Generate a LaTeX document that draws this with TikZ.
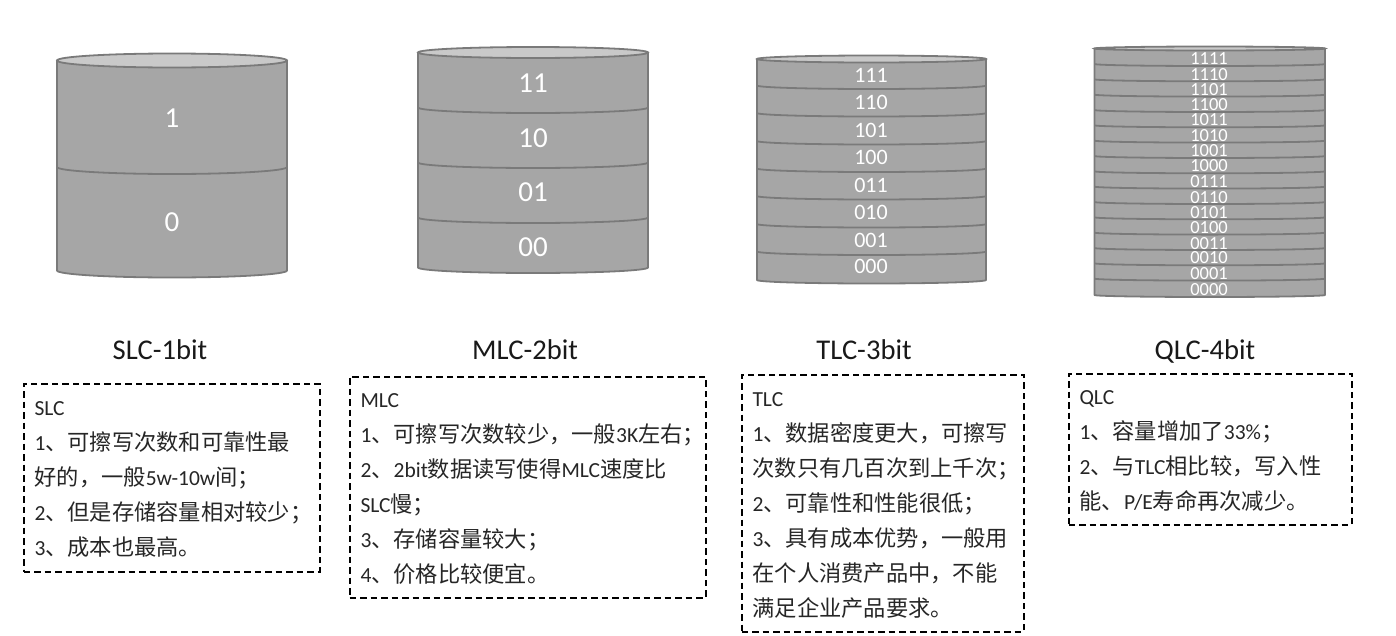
\documentclass[tikz,border=0pt]{standalone}
\usepackage{fontspec}
\setmainfont{Carlito}
\newfontfamily\cjk[Scale=1.035]{Noto Sans CJK SC}
\newcommand{\C}[1]{{\cjk #1}}
\newcommand{\toppad}{\rule{0pt}{18.5pt}}
\tikzset{
  cylbody/.style={fill=cylfill,draw=cylline,line width=1.8pt,line join=round},
  cyltop/.style={fill=cyltopfill,draw=cylline,line width=1.8pt},
  cylrule/.style={draw=cylline,line width=1.8pt},
  bitlabel/.style={text=white,inner sep=0pt,anchor=center},
  title/.style={font=\fontsize{28.6}{32}\selectfont,inner sep=0pt,anchor=base,text=black!90},
  notebox/.style={draw=black,line width=2pt,dash pattern=on 6.5pt off 4pt,anchor=north west,align=left,
    inner xsep=11pt,inner ysep=0pt,font=\fontsize{21.5}{35}\selectfont,text=black!85}
}
\definecolor{cylfill}{HTML}{A6A6A6}
\definecolor{cylline}{HTML}{7A7A7A}
\definecolor{cyltopfill}{HTML}{C9C9C9}
% #1 left, #2 right, #3 top y, #4 bottom y, #5 ry, #6 list of divider y
\newcommand{\cylshape}[6]{%
  \pgfmathsetmacro{\rx}{(#2-#1)/2}
  \draw[cylbody] (#1,#3) -- (#1,#4) arc[start angle=180,end angle=360,x radius=\rx pt,y radius=#5pt] -- (#2,#3) -- cycle;
  \draw[cyltop] ({(#1+#2)/2},#3) ellipse[x radius=\rx pt,y radius=#5pt];
  \foreach \yy in {#6} {\draw[cylrule] (#1,\yy) arc[start angle=180,end angle=360,x radius=\rx pt,y radius=#5pt];}
}
\begin{document}
\begin{tikzpicture}[x=1pt,y=-1pt]
\useasboundingbox (0,0) rectangle (1396,635);
% SLC
\cylshape{57}{287}{60.5}{270.5}{7}{167}
\node[bitlabel,font=\fontsize{29}{30}\selectfont] (s1) at (172,118.5) {1};
\node[bitlabel,font=\fontsize{29}{30}\selectfont] (s0) at (172,222.5) {0};
% MLC
\cylshape{418}{648}{52.5}{267.5}{5.5}{107.5,162.5,217.5}
\foreach \yy/\t in {83.5/11,138.5/10,192.5/01,247.5/00}
  \node[bitlabel,font=\fontsize{29}{30}\selectfont] (m\t) at (533,\yy) {\t};
% TLC
\cylshape{757}{986}{59}{280}{3.5}{85.5,113,141,168.5,196,224,251.5}
\foreach \yy/\t in {75.5/111,102.5/110,130.5/101,157.5/100,185.5/011,212.5/010,240.5/001,266.5/000}
  \node[bitlabel,font=\fontsize{22}{24}\selectfont] (t\t) at (871,\yy) {\t};
% QLC
\cylshape{1094.5}{1325}{48.5}{295}{2}{64,79.3,94.6,110,125.3,140.6,156,171.3,186.6,202,217.3,232.6,248,263.3,278.6}
\foreach \yy/\t in {58.5/1111,74.5/1110,89.5/1101,104.5/1100,119.5/1011,135.5/1010,150.5/1001,165.5/1000,181.5/0111,197.5/0110,212.5/0101,227.5/0100,243.5/0011,257.5/0010,273.5/0001,289.5/0000}
  \node[bitlabel,font=\fontsize{18.5}{20}\selectfont] (q\t) at (1209,\yy) {\t};
% titles
\node[title] (ts) at (160,359) {SLC-1bit};
\node[title] (tm) at (525,359) {MLC-2bit};
\node[title] (tt) at (864,359) {TLC-3bit};
\node[title] (tq) at (1205,359) {QLC-4bit};
% boxes
\node[notebox,text width=274pt,minimum width=296pt,minimum height=188pt] (bs) at (22.5,382.5) {%
\toppad SLC\\
1\C{、可擦写次数和可靠性最}\\
\C{好的，一般}5w-10w\C{间；}\\
2\C{、但是存储容量相对较少；}\\
3\C{、成本也最高。}};
\node[notebox,text width=334pt,minimum width=356pt,minimum height=221pt] (bm) at (348.5,375.5) {%
\toppad MLC\\
1\C{、可擦写次数较少，一般}3K\C{左右；}\\
2\C{、}2bit\C{数据读写使得}MLC\C{速度比}\\
SLC\C{慢；}\\
3\C{、存储容量较大；}\\
4\C{、价格比较便宜。}};
\node[notebox,text width=260pt,minimum width=282pt,minimum height=257pt] (bt) at (740.5,373.5) {%
\toppad TLC\\
1\C{、数据密度更大，可擦写}\\
\C{次数只有几百次到上千次；}\\
2\C{、可靠性和性能很低；}\\
3\C{、具有成本优势，一般用}\\
\C{在个人消费产品中，不能}\\
\C{满足企业产品要求。}};
\node[notebox,text width=261pt,minimum width=283pt,minimum height=151pt] (bq) at (1067.5,372.5) {%
\toppad QLC\\
1\C{、容量增加了}33\%\C{；}\\
2\C{、与}TLC\C{相比较，写入性}\\
\C{能、}P/E\C{寿命再次减少。}};
\end{tikzpicture}
\end{document}
